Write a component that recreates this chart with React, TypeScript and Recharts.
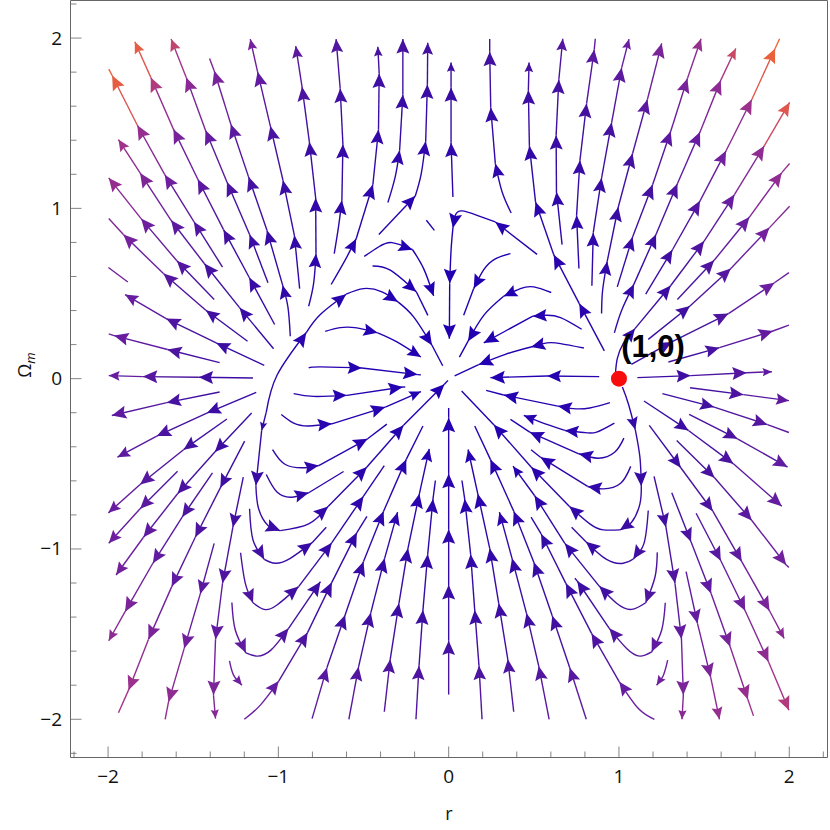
import React from "react";
import { ScatterChart, Scatter, XAxis, YAxis, ReferenceDot, Label } from "recharts";

// each stream runs with the flow; a node ends in an arrow unless it has a third 0
type Node = number[];

const upperLeft: Node[][] = [
  [[-1.328,.655],[-1.496,.922],[-1.667,1.198],[-1.828,1.488],[-1.976,1.78],[-1.996,1.818,0]],
  [[-1.022,.318],[-1.171,.594],[-1.322,.875],[-1.473,1.171],[-1.616,1.465],[-1.749,1.769],[-1.843,1.978]],
  [[-1.061,.563],[-1.169,.846],[-1.302,1.155],[-1.428,1.459],[-1.541,1.769],[-1.63,1.994]],
  [[-.93,.249],[-.944,.421,0],[-.975,.549],[-1.067,.871],[-1.175,1.185],[-1.279,1.494],[-1.377,1.808],[-1.404,1.88,0]],
  [[-.875,.529],[-.906,.842],[-.973,1.165],[-1.047,1.483],[-1.122,1.802],[-1.165,1.994]],
  [[-.822,.425],[-.793,.559,0],[-.779,.734],[-.781,1.061],[-.818,1.39],[-.861,1.714],[-.898,1.953]],
  [[-1.028,.176],[-1.228,.417],[-1.435,.676],[-1.63,.93],[-1.812,1.208],[-1.939,1.404]],
  [[-1.377,.465],[-1.596,.692],[-1.806,.94],[-1.996,1.179]],
  [[-1.181,.22],[-1.426,.402],[-1.675,.617],[-1.91,.846],[-1.996,.94,0]],
  [[-1.884,.568],[-1.998,.653,0]],
];

const leftSide: Node[][] = [
  [[-1.345,.094],[-1.651,.171],[-1.965,.253],[-1.996,.263,0]],
  [[-1.083,.078],[-1.365,.21],[-1.659,.353],[-1.9,.494]],
  [[-1.149,.004],[-1.467,.008],[-1.796,.012],[-1.996,.018]],
  [[-1.345,-.078],[-1.655,-.141],[-1.978,-.216]],
  [[-1.13,-.08],[-1.42,-.202],[-1.714,-.337],[-1.945,-.461]],
  [[-1.302,-.237],[-1.557,-.417],[-1.812,-.621],[-1.998,-.788]],
];

const lowerLeft: Node[][] = [
  [[-1.157,-.202],[-1.373,-.431],[-1.592,-.676],[-1.792,-.931],[-1.953,-1.153]],
  [[-1.592,-.543],[-1.812,-.764],[-1.996,-.966]],
  [[-1.387,-.553],[-1.565,-.813],[-1.737,-1.084],[-1.9,-1.368],[-1.996,-1.539]],
  [[-1.198,-.367],[-1.341,-.641],[-1.488,-.931],[-1.626,-1.221],[-1.763,-1.531],[-1.88,-1.829],[-1.939,-1.962,0]],
  [[-1.206,-.578],[-1.267,-.872],[-1.328,-1.202],[-1.369,-1.531],[-1.381,-1.858],[-1.369,-1.996]],
  [[-1.377,-.967],[-1.459,-1.265],[-1.553,-1.584],[-1.645,-1.898],[-1.665,-2,0]],
];

const leftLoops: Node[][] = [
  [[-1.071,-.196,0],[-1.098,-.304],[-1.132,-.627],[-1.116,-.764,0],[-1.057,-.866,0],[-.989,-.892],[-.822,-.853,0],[-.708,-.751],[-.48,-.519],[-.265,-.274],[-.025,-.033],[-.004,-.01,0]],
  [[-1.071,-.196,0],[-1.008,.02,0],[-.836,.271],[-.755,.376,0],[-.602,.496],[-.5,.529,0],[-.392,.51,0],[-.298,.451],[-.206,.363,0],[-.098,.196],[-.035,.076,0]],
  [[-1.034,-.417,0],[-.959,-.504,0],[-.842,-.523,0],[-.763,-.51],[-.476,-.353],[-.363,-.267,0]],
  [[-1.071,-.563,0],[-1.008,-.666,0],[-.92,-.696,0],[-.822,-.67],[-.617,-.545,0]],
  [[-.983,-.21,0],[-.91,-.261,0],[-.822,-.278,0],[-.686,-.265],[-.372,-.167],[-.163,-.076]],
  [[-.91,-.088,0],[-.793,-.104,0],[-.598,-.098],[-.269,-.049],[-.255,-.049,0]],
  [[-.822,.063,0],[-.755,.069,0],[-.51,.063],[-.182,.024],[-.163,.022,0]],
  [[-.725,.278,0],[-.637,.3,0],[-.539,.298,0],[-.417,.269],[-.304,.216,0],[-.163,.127]],
  [[-1.2,-2,0],[-1.106,-1.917,0],[-.998,-1.776],[-.828,-1.49],[-.686,-1.196],[-.539,-.904],[-.48,-.809,0]],
  [[-1.287,-1.657,0],[-1.263,-1.741,0],[-1.214,-1.8]],
  [[-1.273,-1.314,0],[-1.253,-1.476,0],[-1.191,-1.61],[-1.126,-1.629,0],[-1.044,-1.594,0],[-.94,-1.466],[-.753,-1.192]],
  [[-1.222,-1.022,0],[-1.194,-1.202,0],[-1.149,-1.316],[-1.083,-1.355,0],[-1.008,-1.329,0],[-.881,-1.221],[-.686,-.963],[-.5,-.69],[-.378,-.51,0]],
  [[-1.169,-.764,0],[-1.149,-.947,0],[-1.083,-1.061],[-1.018,-1.084,0],[-.93,-1.055,0],[-.802,-.963],[-.719,-.873,0]],
];

const topMiddle: Node[][] = [
  [[-.672,.734,0],[-.647,.891,0],[-.627,1.047],[-.621,1.377],[-.637,1.704],[-.661,1.994]],
  [[-.69,.553,0],[-.608,.696,0],[-.543,.822],[-.445,1.14],[-.412,1.463],[-.408,1.792],[-.416,1.949]],
  [[-.357,1.034,0],[-.314,1.185,0],[-.288,1.341],[-.269,1.669],[-.269,1.994]],
  [[-.41,.846,0],[-.196,1.073],[-.161,1.204,0],[-.135,1.394],[-.125,1.728],[-.123,1.973]],
  [[.025,1.067,0],[.014,1.385],[.014,1.71],[.014,1.857]],
  [[.519,.73,0],[.274,.92],[.167,.959,0],[.078,.985,0],[.039,.959,0],[.025,.885],[.014,.753,0],[.006,.559],[.004,.235]],
  [[-.131,.93,0],[-.084,.871,0]],
  [[-.496,.718,0],[-.412,.773,0],[-.333,.799,0],[-.212,.757],[-.147,.646,0],[-.088,.486]],
  [[-.447,.662,0],[-.343,.637,0],[-.19,.51],[-.122,.372,0]],
  [[.367,.973,0],[.314,1.096,0],[.274,1.263],[.247,1.592],[.241,1.92],[.241,1.994,0]],
  [[.363,.734,0],[.274,.704,0],[.206,.64,0],[.147,.529],[.088,.372,0]],
  [[.666,.787,0],[.633,1.096],[.631,1.43],[.647,1.757],[.67,1.996]],
  [[.914,.163,0],[.767,.441],[.617,.728],[.51,1.038],[.474,1.367],[.468,1.694],[.472,1.857]],
];

const upperRight: Node[][] = [
  [[.765,.647,0],[.751,.959],[.771,1.283],[.81,1.616],[.855,1.933],[.861,1.996,0]],
  [[.841,.545,0],[.849,.857],[.898,1.179],[.957,1.504],[1.016,1.826],[1.059,1.994]],
  [[.898,.382,0],[.904,.519,0],[.931,.689],[.996,1.008],[1.08,1.322],[1.167,1.639],[1.251,1.969]],
  [[.99,.539,0],[1.08,.832],[1.198,1.14],[1.304,1.453],[1.402,1.763],[1.482,1.996]],
  [[.973,.269,0],[1.016,.402,0],[1.088,.555],[1.218,.848],[1.343,1.145],[1.476,1.449],[1.598,1.753],[1.686,1.939]],
  [[1.157,.496,0],[1.314,.757],[1.476,1.044],[1.629,1.338],[1.78,1.639],[1.917,1.939],[1.943,1.996,0]],
  [[.98,.039,0],[.99,.118,0],[1.025,.206,0],[1.094,.294],[1.304,.547],[1.5,.808],[1.678,1.081],[1.853,1.367],[2.002,1.622]],
  [[1.343,.465,0],[1.559,.695],[1.766,.949],[1.956,1.21],[2.002,1.263,0]],
  [[1.172,.231,0],[1.417,.427],[1.657,.647],[1.884,.887],[2.002,1.012,0]],
  [[1.073,.084,0],[1.31,.216],[1.643,.382],[1.913,.563],[1.998,.623,0]],
];

const rightSide: Node[][] = [
  [[1.29,.098,0],[1.59,.182],[1.904,.28],[1.998,.314,0]],
  [[1.108,.006,0],[1.421,.018],[1.751,.035],[1.898,.041]],
  [[1.417,-.053,0],[1.731,-.094],[1.998,-.129]],
  [[1.255,-.088,0],[1.559,-.167],[1.872,-.27],[1.998,-.316,0]],
  [[1.412,-.21,0],[1.696,-.353],[1.99,-.519]],
  [[1.147,-.131,0],[1.408,-.304],[1.672,-.5],[1.956,-.749]],
];

const lowerRight: Node[][] = [
  [[1.178,-.274,0],[1.363,-.523],[1.551,-.778],[1.721,-1.074],[1.884,-1.363],[1.97,-1.525]],
  [[1.339,-.363,0],[1.561,-.582],[1.78,-.833],[1.982,-1.094],[1.998,-1.108,0]],
  [[1.453,-.79,0],[1.598,-1.069],[1.741,-1.363],[1.878,-1.662],[1.998,-1.947]],
  [[1.31,-.67,0],[1.423,-.957],[1.541,-1.261],[1.653,-1.574],[1.757,-1.884],[1.79,-1.98,0]],
  [[1.206,-.574,0],[1.276,-.872],[1.329,-1.202],[1.367,-1.529],[1.378,-1.858],[1.37,-2]],
  [[1.394,-1.133,0],[1.461,-1.437],[1.539,-1.755],[1.59,-2]],
];

const rightLoops: Node[][] = [
  [[.884,.012,0],[.578,.016],[.245,.006]],
  [[.794,.18,0],[.657,.206,0],[.578,.21,0],[.484,.186],[.333,.143,0],[.176,.082],[.035,.016,0]],
  [[.781,.29,0],[.657,.359,0],[.568,.372,0],[.494,.367],[.323,.274,0],[.206,.21]],
  [[.602,.506,0],[.5,.539,0],[.421,.529,0],[.323,.484],[.206,.372,0],[.114,.22],[.063,.127,0]],
  [[.947,-.141,0],[.829,-.172,0],[.731,-.176,0],[.641,-.161],[.323,-.096],[.22,-.069,0]],
  [[.973,-.261,0],[.869,-.314,0],[.794,-.316,0],[.682,-.304],[.539,-.255,0],[.441,-.216]],
  [[1.029,-.349,0],[.976,-.431,0],[.878,-.467,0],[.764,-.441],[.476,-.314],[.363,-.239,0]],
  [[1.069,-.515,0],[1.01,-.614,0],[.908,-.647,0],[.816,-.633],[.539,-.461],[.484,-.417,0]],
  [[1.02,-.049,0],[1.055,-.147,0],[1.096,-.3],[1.123,-.461,0],[1.131,-.631],[1.123,-.735,0],[1.074,-.843,0],[1.006,-.888],[.908,-.888,0],[.829,-.853,0],[.708,-.749],[.484,-.519],[.265,-.27],[.076,-.073,0]],
  [[1.172,-.774,0],[1.147,-.967,0],[1.084,-1.059],[1.025,-1.084,0],[.927,-1.061,0],[.806,-.957],[.722,-.873,0]],
  [[1.225,-1.02,0],[1.212,-1.163,0],[1.157,-1.316],[1.074,-1.355,0],[.986,-1.319,0],[.884,-1.218],[.682,-.967],[.504,-.686],[.378,-.514]],
  [[1.272,-1.316,0],[1.251,-1.476,0],[1.192,-1.604],[1.123,-1.629,0],[1.045,-1.584,0],[.943,-1.466],[.755,-1.188],[.741,-1.172,0]],
  [[1.286,-1.653,0],[1.261,-1.741,0],[1.221,-1.8]],
  [[1.208,-2,0],[1.114,-1.937,0],[1.002,-1.78],[.839,-1.496],[.688,-1.202],[.543,-.912],[.484,-.813,0]],
];

const bottomMiddle: Node[][] = [
  [[0,-1.855,0],[0,-1.539],[0,-1.212],[0,-.884],[0,-.559],[0,-.229],[0,-.172,0]],
  [[.196,-2,0],[.178,-1.686],[.153,-1.359],[.129,-1.031],[.094,-.706],[.078,-.598,0]],
  [[.382,-1.956,0],[.347,-1.647],[.294,-1.319],[.241,-.996],[.171,-.676],[.114,-.416]],
  [[.59,-2,0],[.529,-1.688],[.457,-1.378],[.372,-1.055],[.298,-.784]],
  [[.808,-2,0],[.711,-1.698],[.608,-1.392],[.5,-1.078],[.382,-.778],[.245,-.474],[.153,-.278,0]],
  [[-.192,-2,0],[-.174,-1.686],[-.151,-1.359],[-.123,-1.031],[-.092,-.706],[-.078,-.598,0]],
  [[-.378,-1.956,0],[-.343,-1.647],[-.292,-1.319],[-.239,-.996],[-.172,-.676],[-.114,-.412]],
  [[-.586,-2,0],[-.529,-1.692],[-.457,-1.374],[-.376,-1.055],[-.3,-.784]],
  [[-.802,-1.996,0],[-.715,-1.698],[-.608,-1.388],[-.5,-1.074],[-.382,-.778],[-.249,-.474],[-.151,-.278,0]],
];

const allStreams = [
  ...upperLeft, ...leftSide, ...lowerLeft, ...leftLoops, ...topMiddle,
  ...upperRight, ...rightSide, ...lowerRight, ...rightLoops, ...bottomMiddle,
];

const tickValues = [-2.2, -2, -1.8, -1.6, -1.4, -1.2, -1, -0.8, -0.6, -0.4, -0.2, 0, 0.2, 0.4, 0.6, 0.8, 1, 1.2, 1.4, 1.6, 1.8, 2, 2.2];
const xDomain = [-2.2206, 2.2245];
const yDomain = [-2.2245, 2.2206];

const PX = 170.3;
const frameColor = "#666";
const tickFont = "'Open Sans', sans-serif";

const colorStops = [
  [0, 34, 0, 178],
  [0.25, 66, 16, 160],
  [0.45, 106, 30, 160],
  [0.7, 166, 52, 136],
  [0.88, 226, 88, 76],
  [1, 250, 120, 20],
];

// rough speed of the flow at a point, 0 near the origin and 1 in the top corners
function heat(x: number, y: number) {
  const t = 0.11 * x * x + 0.09 * y * y - 0.05 * y + 0.0056 * x * x * y * y + 0.019 * x * x * y;
  let s = t * 0.9;
  if (y > 0) {
    if (t <= 0.65) s = t;
    else if (t <= 0.74) s = 0.65 + (t - 0.65) * 2.2;
    else s = 0.848 + (t - 0.74) * 0.58;
  }
  return Math.max(0, Math.min(1, s));
}

function colorAt(x: number, y: number) {
  const t = heat(x, y);
  for (let i = 1; i < colorStops.length; i++) {
    const a = colorStops[i - 1];
    const b = colorStops[i];
    if (t <= b[0]) {
      const f = (t - a[0]) / (b[0] - a[0]);
      const c = [1, 2, 3].map((k) => Math.round(a[k] + (b[k] - a[k]) * f));
      return `rgb(${c[0]},${c[1]},${c[2]})`;
    }
  }
  return "rgb(250,120,20)";
}

// cut a stream into pieces, each ending at one arrow
function toSegments(stream: Node[]) {
  const segments: { x: number; y: number; tip: boolean }[][] = [];
  let current = [{ x: stream[0][0], y: stream[0][1], tip: false }];
  for (let i = 1; i < stream.length; i++) {
    const n = stream[i];
    const tip = n[2] !== 0;
    current.push({ x: n[0], y: n[1], tip });
    if (tip) {
      segments.push(current);
      current = [{ x: n[0], y: n[1], tip: false }];
    }
  }
  if (current.length > 1) segments.push(current);
  return segments;
}

const segmentRows = allStreams.flatMap(toSegments).map((pts) => {
  let len = 0;
  for (let i = 1; i < pts.length; i++) {
    len += Math.hypot(pts[i].x - pts[i - 1].x, pts[i].y - pts[i - 1].y) * PX;
  }
  const a = pts[pts.length - 2];
  const b = pts[pts.length - 1];
  const angle = (Math.atan2(a.y - b.y, b.x - a.x) * 180) / Math.PI;
  const size = Math.max(6, Math.min(14.5, 5 + len * 0.17));
  return pts.map((p) => ({ ...p, angle, size, color: colorAt(p.x, p.y) }));
});

// the line takes the colour of the flow nearer its head
function segmentColor(rows: { x: number; y: number }[]) {
  const start = rows[0];
  const end = rows[rows.length - 1];
  return colorAt(start.x * 0.3 + end.x * 0.7, start.y * 0.3 + end.y * 0.7);
}

function Arrow(props: any) {
  const { cx, cy, payload } = props;
  if (!payload || !payload.tip) return <g />;
  const L = payload.size;
  const W = L * 0.45;
  return (
    <polygon
      points={`0,0 ${-L},${-W} ${-L * 0.84},0 ${-L},${W}`}
      transform={`translate(${cx},${cy}) rotate(${payload.angle})`}
      fill={payload.color}
      stroke="none"
    />
  );
}

const isMajor = (v: number) => Number.isInteger(v);
const tickText = (v: number) => (v < 0 ? `\u2212${Math.abs(v)}` : `${v}`);

function BottomTick({ x, y, payload }: any) {
  const v = payload.value;
  return (
    <g>
      <line x1={x} x2={x} y1={y} y2={y - (isMajor(v) ? 11 : 6)} stroke={frameColor} strokeWidth={0.8} />
      {isMajor(v) && (
        <text x={x} y={783} textAnchor="middle" fontSize={19} fontFamily={tickFont} fill="#111">
          {tickText(v)}
        </text>
      )}
    </g>
  );
}

function TopTick({ x, y, payload }: any) {
  return <line x1={x} x2={x} y1={y} y2={y + (isMajor(payload.value) ? 11 : 6)} stroke={frameColor} strokeWidth={0.8} />;
}

function LeftTick({ x, y, payload }: any) {
  const v = payload.value;
  return (
    <g>
      <line x1={x} x2={x + (isMajor(v) ? 11 : 6)} y1={y} y2={y} stroke={frameColor} strokeWidth={0.8} />
      {isMajor(v) && (
        <text x={62} y={y + 6.5} textAnchor="end" fontSize={19} fontFamily={tickFont} fill="#111">
          {tickText(v)}
        </text>
      )}
    </g>
  );
}

function RightTick({ x, y, payload }: any) {
  return <line x1={x} x2={x - (isMajor(payload.value) ? 11 : 6)} y1={y} y2={y} stroke={frameColor} strokeWidth={0.8} />;
}

function OmegaLabel() {
  return (
    <text transform="translate(31,365) rotate(-90)" textAnchor="middle" fontSize={18} fontFamily={tickFont} fill="#111">
      {"\u03a9"}
      <tspan fontSize={13} dy={4} fontStyle="italic">m</tspan>
    </text>
  );
}

function RLabel() {
  return (
    <text x={449} y={820} textAnchor="middle" fontSize={18} fontFamily={tickFont} fill="#111">
      r
    </text>
  );
}

export default function App() {
  return (
    <div style={{ position: "absolute", left: 0, top: 0, width: 830, height: 830 }}>
      <ScatterChart
        width={830}
        height={830}
        margin={{ top: 0.49, right: 2.49, bottom: 72.49, left: 70.49 }}
      >
        <XAxis
          dataKey="x"
          type="number"
          domain={xDomain}
          ticks={tickValues}
          interval={0}
          height={0.01}
          tickSize={0}
          tickMargin={0}
          tickLine={false}
          tick={BottomTick}
          stroke={frameColor}
          label={<RLabel />}
        />
        <XAxis
          xAxisId="top"
          orientation="top"
          dataKey="x"
          type="number"
          domain={xDomain}
          ticks={tickValues}
          interval={0}
          height={0.01}
          tickSize={0}
          tickMargin={0}
          tickLine={false}
          tick={TopTick}
          stroke={frameColor}
        />
        <YAxis
          dataKey="y"
          type="number"
          domain={yDomain}
          ticks={tickValues}
          interval={0}
          width={0.01}
          tickSize={0}
          tickMargin={0}
          tickLine={false}
          tick={LeftTick}
          stroke={frameColor}
          label={<OmegaLabel />}
        />
        <YAxis
          yAxisId="right"
          orientation="right"
          dataKey="y"
          type="number"
          domain={yDomain}
          ticks={tickValues}
          interval={0}
          width={0.01}
          tickSize={0}
          tickMargin={0}
          tickLine={false}
          tick={RightTick}
          stroke={frameColor}
        />
        {segmentRows.map((rows, i) => (
          <Scatter
            key={i}
            data={rows}
            line={{ stroke: segmentColor(rows), strokeWidth: 1.4 }}
            lineJointType="natural"
            shape={Arrow}
            isAnimationActive={false}
          />
        ))}
        <ReferenceDot x={1} y={0} r={8} fill="#f80d0d" stroke="none" />
        <ReferenceDot x={1.2} y={0.19} r={0} fill="none" stroke="none">
          <Label
            value="(1,0)"
            position="center"
            fontSize={31}
            fontWeight="bold"
            fontFamily="'Liberation Sans', sans-serif"
            fill="#000"
          />
        </ReferenceDot>
      </ScatterChart>
    </div>
  );
}
